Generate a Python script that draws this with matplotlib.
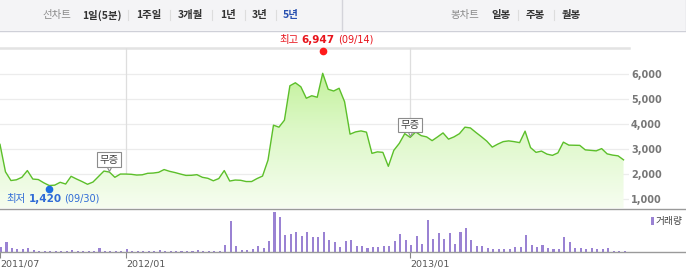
import matplotlib
matplotlib.use('Agg')
import matplotlib.pyplot as plt
import numpy as np
from matplotlib.colors import LinearSegmentedColormap
from matplotlib.patches import Rectangle
from matplotlib.lines import Line2D
from matplotlib.transforms import ScaledTranslation

# ---------------- data (weekly, 2011/07 .. 2013/09) ----------------
prices = [3190, 2090, 1740, 1770, 1870, 2140, 1800, 1780, 1650, 1540,
          1555, 1670, 1600, 1910, 1800, 1700, 1590, 1680, 1900, 2120,
          2080, 1870, 2000, 2000, 1990, 1960, 1970, 2030, 2040, 2070,
          2180, 2110, 2060, 2000, 1945, 1950, 1975, 1870, 1830, 1730,
          1820, 2140, 1720, 1760, 1750, 1700, 1700, 1820, 1920, 2560,
          3960, 3880, 4160, 5540, 5660, 5500, 5040, 5140, 5080, 6040,
          5400, 5330, 5440, 4900, 3600, 3690, 3730, 3680, 2830, 2890,
          2870, 2310, 2950, 3230, 3620, 3470, 3690, 3540, 3490, 3340,
          3490, 3650, 3400, 3490, 3620, 3880, 3850, 3670, 3500, 3320,
          3080, 3200, 3300, 3330, 3300, 3260, 3720, 3060, 2870, 2920,
          2800, 2750, 2850, 3280, 3160, 3155, 3150, 2970, 2950, 2930,
          3020, 2810, 2760, 2730, 2570]

volumes = [50, 100, 43, 33, 27, 37, 20, 15, 15, 13,
           15, 13, 15, 20, 13, 13, 13, 13, 37, 15,
           15, 13, 15, 27, 15, 13, 15, 13, 15, 20,
           15, 15, 13, 13, 13, 15, 17, 13, 13, 13,
           13, 73, 313, 60, 20, 20, 27, 60, 40, 110,
           397, 347, 167, 177, 197, 157, 197, 147, 147, 197,
           120, 100, 50, 110, 117, 63, 57, 40, 50, 50,
           63, 63, 110, 177, 120, 70, 157, 80, 323, 127,
           193, 130, 193, 80, 197, 237, 120, 57, 63, 40,
           33, 30, 33, 33, 47, 53, 167, 73, 50, 67,
           37, 33, 30, 153, 97, 37, 37, 30, 40, 33,
           33, 40, 13, 13, 10]

x_tick_idx = [0, 23, 75]
x_tick_labels = ['2011/07', '2012/01', '2013/01']
y_ticks = [1000, 2000, 3000, 4000, 5000, 6000]

high_idx, high_val, high_date = 59, 6947, '(09/14)'
low_idx, low_val, low_date = 9, 1420, '(09/30)'
event_idx = [20, 75]
event_label = '무증'

left_menu = ['1일(5분)', '1주일', '3개월', '1년', '3년']
left_menu_sel = '5년'
right_menu = ['일봉', '주봉', '월봉']

# ---------------- figure ----------------
W, H = 686, 276
fig = plt.figure(figsize=(W / 100, H / 100), dpi=100)
KR = ['Noto Sans CJK KR', 'DejaVu Sans']


def rect(x0, y0, x1, y1):
    return [x0 / W, 1 - y1 / H, (x1 - x0) / W, (y1 - y0) / H]


def fx(x):
    return x / W


def fy(y):
    return 1 - y / H


# header band
fig.patches.append(Rectangle((0, fy(30)), 1, 30 / H, transform=fig.transFigure,
                             facecolor='#f4f4f6', edgecolor='none', zorder=0))
fig.lines.append(Line2D([0, 1], [fy(30.5), fy(30.5)], transform=fig.transFigure,
                        color='#cfd0d8', lw=1))
fig.lines.append(Line2D([fx(342), fx(342)], [fy(0), fy(30)], transform=fig.transFigure,
                        color='#d4d4da', lw=1))
fig.lines.append(Line2D([fx(685.5), fx(685.5)], [fy(0), fy(30)], transform=fig.transFigure,
                        color='#d4d4da', lw=1))

hy = fy(15)
fig.text(fx(42), hy, '선차트', ha='left', va='center', fontsize=7.5, family=KR, color='#8a8a8a')
lx = [82, 136, 178, 220, 252]
for s, x in zip(left_menu, lx):
    fig.text(fx(x), hy, s, ha='left', va='center', fontsize=7.5, family=KR,
             weight='bold', color='#333333')
fig.text(fx(283), hy, left_menu_sel, ha='left', va='center', fontsize=7.5, family=KR,
         weight='bold', color='#2850b0')
for x in [128, 170, 212, 245, 276]:
    fig.lines.append(Line2D([fx(x), fx(x)], [fy(10), fy(20)], transform=fig.transFigure,
                            color='#dddddd', lw=0.8))

fig.text(fx(450), hy, '봉차트', ha='left', va='center', fontsize=7.5, family=KR, color='#8a8a8a')
for s, x in zip(right_menu, [491, 526, 562]):
    fig.text(fx(x), hy, s, ha='left', va='center', fontsize=7.5, family=KR,
             weight='bold', color='#333333')
for x in [518, 554]:
    fig.lines.append(Line2D([fx(x), fx(x)], [fy(10), fy(20)], transform=fig.transFigure,
                            color='#dddddd', lw=0.8))

# ---------------- price panel ----------------
n = len(prices)
idx = np.arange(n)
ax = fig.add_axes(rect(0, 48, 629, 208))
ymin, ymax = 639, 7054
ax.set_xlim(0, 115)
ax.set_ylim(ymin, ymax)
for s in ax.spines.values():
    s.set_visible(False)
ax.set_facecolor('none')

for v in y_ticks:
    ax.axhline(v, color='#ececec', lw=0.9, zorder=0)
ax.axhline(ymax, color='#e3e3e3', lw=1.8, zorder=0, clip_on=False)
for i in x_tick_idx[1:]:
    ax.axvline(i, color='#dedede', lw=0.9, zorder=0)

# gradient fill under the line
poly = ax.fill_between(idx, prices, ymin, facecolor='none', edgecolor='none')
cmap = LinearSegmentedColormap.from_list('g', ['#f6fdf0', '#dcf8c6', '#b9ee8a'])
grad = np.linspace(0, 1, 256).reshape(-1, 1)
im = ax.imshow(grad, extent=[0, 115, ymin, ymax], origin='lower', aspect='auto',
               cmap=cmap, zorder=1)
im.set_clip_path(poly.get_paths()[0], transform=ax.transData)
ax.plot(idx, prices, color='#5cbf2a', lw=1.0, zorder=3)

ax.yaxis.tick_right()
ax.set_yticks(y_ticks)
ax.set_yticklabels([f'{v:,}' for v in y_ticks])
ax.tick_params(axis='y', length=0, pad=1.5, labelsize=7, labelcolor='#777777')
for lbl in ax.get_yticklabels():
    lbl.set_fontweight('bold')
ax.set_xticks([])

# high / low markers
ax.plot([high_idx], [high_val], 'o', color='#ff1a1a', ms=4.5, clip_on=False, zorder=5)
ax.plot([low_idx], [low_val], 'o', color='#1f6fe0', ms=4.5, clip_on=False, zorder=5)

red = '#e8141c'
for s, dx, fam, wt, fs in [('최고', -43, KR, 'normal', 7.5),
                           (f'{high_val:,}', -21, ['DejaVu Sans'], 'bold', 7.5),
                           (high_date, 15, ['DejaVu Sans'], 'normal', 7)]:
    ax.annotate(s, xy=(high_idx, high_val), xytext=(dx, 11), textcoords='offset pixels',
                ha='left', va='center', fontsize=fs, family=fam, weight=wt, color=red,
                annotation_clip=False)
blue = '#2f6bd6'
for s, dx, fam, wt, fs in [('최저', -43, KR, 'normal', 7.5),
                           (f'{low_val:,}', -20, ['DejaVu Sans'], 'bold', 7.5),
                           (low_date, 15, ['DejaVu Sans'], 'normal', 7)]:
    ax.annotate(s, xy=(low_idx, low_val), xytext=(dx, -10), textcoords='offset pixels',
                ha='left', va='center', fontsize=fs, family=fam, weight=wt, color=blue,
                annotation_clip=False)

# event callouts
for i in event_idx:
    tri = ax.transData + ScaledTranslation(0, 4.5 / 100, fig.dpi_scale_trans)
    ax.plot([i], [prices[i]], marker='v', ms=5, mfc='white', mec='#8c8c8c', mew=0.8,
            transform=tri, zorder=6)
    ax.annotate(event_label, xy=(i, prices[i]), xytext=(0, 12.5), textcoords='offset pixels',
                ha='center', va='center', fontsize=7.5, family=KR, color='#444444',
                bbox=dict(boxstyle='square,pad=0.22', fc='white', ec='#8c8c8c', lw=0.8),
                zorder=7)

fig.lines.append(Line2D([0, 1], [fy(208.5), fy(208.5)], transform=fig.transFigure,
                        color='#9a9a9a', lw=1))

# ---------------- volume panel ----------------
vax = fig.add_axes(rect(0, 210, 629, 252))
vax.set_xlim(0, 115)
vax.set_ylim(0, 420)
for s in vax.spines.values():
    s.set_visible(False)
vax.set_facecolor('none')
vax.bar(idx, volumes, width=0.38, align='edge', color='#9a82d3', linewidth=0)
vax.set_yticks([])
vax.set_xticks(x_tick_idx)
vax.set_xticklabels(x_tick_labels)
vax.tick_params(axis='x', length=4, width=0.8, color='#888888', pad=1.5,
                labelsize=6.8, labelcolor='#555555')
for lbl in vax.get_xticklabels():
    lbl.set_horizontalalignment('left')

fig.lines.append(Line2D([0, 1], [fy(252), fy(252)], transform=fig.transFigure,
                        color='#9a9a9a', lw=1))

# legend
fig.patches.append(Rectangle((fx(651), fy(225)), 2.5 / W, 8 / H, transform=fig.transFigure,
                             facecolor='#9a82d3', edgecolor='none'))
fig.text(fx(656), fy(221), '거래량', ha='left', va='center', fontsize=7, family=KR,
         color='#444444')

fig.savefig('out.png', dpi=100)
